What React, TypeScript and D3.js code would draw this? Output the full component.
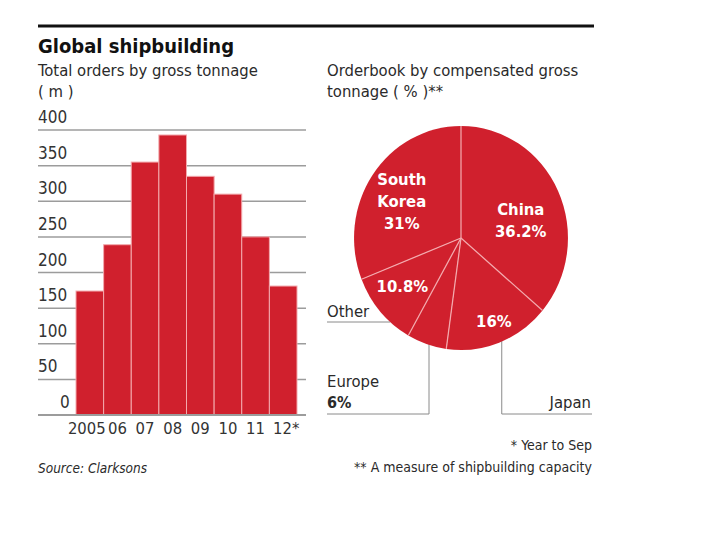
import React from 'react';
import * as d3 from 'd3';

const years = ['2005', '06', '07', '08', '09', '10', '11', '12*'];
const orders = [174, 239, 355, 393, 335, 310, 250, 181];
const yTicks = [0, 50, 100, 150, 200, 250, 300, 350, 400];

const regions = ['China', 'Japan', 'Europe', 'Other', 'South Korea'];
const shares = [36.2, 16, 6, 10.8, 31];

const RED = '#d0202d';
const SEP = '#f3a9ad';
const FONT = "'Liberation Sans Narrow', 'DejaVu Sans Condensed', 'Arial Narrow', sans-serif";

const App: React.FC = () => {
  const width = 720;
  const height = 540;

  // bar chart scales
  const x = d3.scaleBand().domain(years).range([76, 297]).padding(0);
  const y = d3.scaleLinear().domain([0, 400]).range([415, 130]);

  // pie (slightly squashed horizontally like the print)
  const cx = 461;
  const cy = 238;
  const r = 112;
  const sx = 0.955;
  const pie = d3.pie<number>().sort(null).value(d => d);
  const arcs = pie(shares);
  const arc = d3.arc<d3.PieArcDatum<number>>().innerRadius(0).outerRadius(r);

  const polar = (angleDeg: number, rad: number) => {
    const a = (angleDeg * Math.PI) / 180;
    return [cx + rad * sx * Math.sin(a), cy - rad * Math.cos(a)];
  };
  const deg = (rad: number) => (rad * 180) / Math.PI;

  const txt = { fontFamily: FONT, fill: '#2a2a2a' } as const;
  const lead = { fill: 'none', stroke: '#8a8a8a', strokeWidth: 1 };

  const other = polar(221.4, r);
  const europe = polar(197.4, r);
  const japan = polar(157.6, r);

  return (
    <svg width={width} height={height} style={{ position: 'absolute', left: 0, top: 0 }}>
      <rect width={width} height={height} fill="#fff" />
      <line x1={38} x2={594} y1={26} y2={26} stroke="#111" strokeWidth={3} />
      <text x={38} y={53} style={{ ...txt, fontWeight: 700, fill: '#111' }} fontSize={20}>
        Global shipbuilding
      </text>
      <text x={38} y={76} style={txt} fontSize={16.5}>Total orders by gross tonnage</text>
      <text x={38} y={97} style={txt} fontSize={16.5}>( m )</text>

      {/* gridlines and tick labels */}
      {yTicks.map(t => (
        <g key={t}>
          <line x1={38} x2={306} y1={y(t)} y2={y(t)} stroke="#9c9c9c" strokeWidth={1.5} />
          <text x={t === 0 ? 60 : 38} y={y(t) - 7} style={{ ...txt, fill: '#333' }} fontSize={17}>
            {t}
          </text>
        </g>
      ))}

      {/* bars */}
      {orders.map((v, i) => (
        <rect
          key={years[i]}
          x={x(years[i])!}
          y={y(v)}
          width={x.bandwidth()}
          height={y(0) - y(v)}
          fill={RED}
          stroke={SEP}
          strokeWidth={1}
        />
      ))}
      <line x1={38} x2={306} y1={y(0)} y2={y(0)} stroke="#9c9c9c" strokeWidth={2} />

      {years.map((yr, i) => (
        <text
          key={yr}
          x={x(yr)! + x.bandwidth() / 2 + (i === 0 ? -3 : i === years.length - 1 ? 3 : 0)}
          y={434}
          textAnchor="middle"
          style={{ ...txt, fill: '#333' }}
          fontSize={16.5}
        >
          {yr}
        </text>
      ))}

      <text x={38} y={473} style={{ ...txt, fontStyle: 'italic' }} fontSize={13.5}>
        Source: Clarksons
      </text>

      {/* pie */}
      <text x={327} y={76} style={txt} fontSize={16.5}>Orderbook by compensated gross</text>
      <text x={327} y={97} style={txt} fontSize={16.5}>tonnage ( % )**</text>

      {/* leader lines */}
      <polyline points={`327,${other[1]} ${other[0]},${other[1]}`} {...lead} />
      <polyline points={`${europe[0]},${europe[1] - 3} ${europe[0]},414 327,414`} {...lead} />
      <polyline points={`${japan[0]},${japan[1] - 3} ${japan[0]},414 592,414`} {...lead} />

      <g transform={`translate(${cx},${cy}) scale(${sx},1)`}>
        {arcs.map(a => (
          <path key={regions[a.index]} d={arc(a) || ''} fill={RED} />
        ))}
        {arcs.map(a => {
          const ang = a.startAngle;
          return (
            <line
              key={'sep' + a.index}
              x1={0}
              y1={0}
              x2={r * Math.sin(ang)}
              y2={-r * Math.cos(ang)}
              stroke={SEP}
              strokeWidth={1.3}
            />
          );
        })}
      </g>

      <g style={{ ...txt, fill: '#fff', fontWeight: 700 }} fontSize={16.5} textAnchor="middle">
        {arcs.map(a => {
          const mid = deg((a.startAngle + a.endAngle) / 2);
          const name = regions[a.index];
          const pct = `${shares[a.index]}%`;
          if (name === 'China') {
            const [px] = polar(mid + 37, 64);
            return (
              <text key={name} x={px}>
                <tspan x={px} y={215}>China</tspan>
                <tspan x={px} y={237}>{pct}</tspan>
              </text>
            );
          }
          if (name === 'South Korea') {
            const [px] = polar(mid - 10, 68);
            return (
              <text key={name} x={px}>
                <tspan x={px} y={185}>South</tspan>
                <tspan x={px} y={207}>Korea</tspan>
                <tspan x={px} y={229}>{pct}</tspan>
              </text>
            );
          }
          if (name === 'Other') {
            const [px, py] = polar(mid + 3, 78);
            return <text key={name} x={px} y={py + 6}>{pct}</text>;
          }
          if (name === 'Japan') {
            const [px, py] = polar(mid - 1.6, 90);
            return <text key={name} x={px} y={py + 6}>{pct}</text>;
          }
          return null;
        })}
      </g>

      <text x={327} y={317} style={txt} fontSize={16.5}>Other</text>
      <text x={327} y={387} style={txt} fontSize={16.5}>Europe</text>
      <text x={327} y={408} style={{ ...txt, fontWeight: 700 }} fontSize={16}>6%</text>
      <text x={591} y={408} textAnchor="end" style={txt} fontSize={16.5}>Japan</text>

      <text x={592} y={450} textAnchor="end" style={txt} fontSize={14}>* Year to Sep</text>
      <text x={592} y={472} textAnchor="end" style={txt} fontSize={14}>
        ** A measure of shipbuilding capacity
      </text>
    </svg>
  );
};

export default App;
